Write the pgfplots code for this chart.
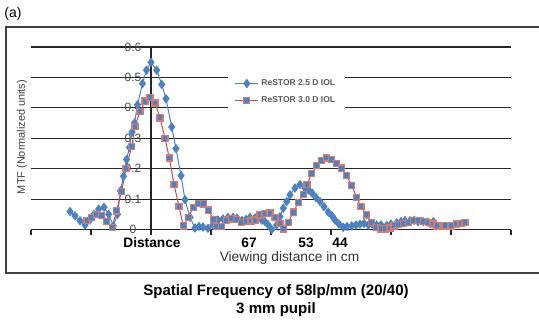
\documentclass[border=0pt]{standalone}
\usepackage{pgfplots}
\pgfplotsset{compat=1.18}
\usepackage{fontspec}
\setmainfont{Liberation Sans}
\definecolor{xblue}{HTML}{4F81BD}
\definecolor{xred}{HTML}{C0504D}
\begin{document}
\begin{tikzpicture}
\begin{scope}[x=0.75pt,y=-0.75pt]
\path[use as bounding box] (0,0) rectangle (539,321);
\draw[black!75, line width=0.9pt] (6,27) rectangle (560,273);
\node[font=\fontsize{10.5}{12}\selectfont] at (13,14) {(a)};
\node[rotate=90, font=\fontsize{8.2}{10}\selectfont, text=black!75] at (22,137) {MTF (Normalized units)};
\node[font=\bfseries\fontsize{10.3}{12}\selectfont, inner sep=1pt] at (152,243) {Distance};
\node[font=\bfseries\fontsize{10.3}{12}\selectfont, inner sep=1pt] at (249,243) {67};
\node[font=\bfseries\fontsize{10.3}{12}\selectfont, inner sep=1pt] at (306,243) {53};
\node[font=\bfseries\fontsize{10.3}{12}\selectfont, inner sep=1pt] at (340,243) {44};
\node[font=\fontsize{10.3}{12}\selectfont, text=black!80, inner sep=1pt] at (289.5,257.5) {Viewing distance in cm};
\node[font=\bfseries\fontsize{11.3}{13.5}\selectfont, align=center] at (276,301) {Spatial Frequency of 58lp/mm (20/40)\\3 mm pupil};
\end{scope}
\begin{axis}[
  at={(23.25pt,-172.125pt)}, anchor=south west,
  scale only axis, width=360pt, height=136.875pt,
  xmin=31, xmax=511, ymin=0, ymax=0.6,
  axis line style={draw=none},
  xtick={31,91,151,211,271,331,391,451,511},
  xticklabels={},
  tick align=outside, xtick pos=bottom, ytick pos=left,
  major tick length=3.75pt,
  x tick style={black!85, line width=0.8pt},
  ytick={0,0.1,0.2,0.3,0.4,0.5,0.6},
  yticklabels={0,0.1,0.2,0.3,0.4,0.5,0.6},
  y tick style={draw=none},
  yticklabel style={anchor=center, xshift=80.25pt, font=\fontsize{9}{10}\selectfont, text=black!72},
  ymajorgrids, major grid style={black!85, line width=0.8pt},
  clip=false,
  legend style={at={(axis cs:228,0.52)}, anchor=north west, draw=none, fill=white,
    font=\bfseries\fontsize{6.4}{7.5}\selectfont, text=black!65, inner xsep=5pt, inner ysep=4pt, row sep=2.5pt},
  legend cell align=left,
]
\draw[black!85, line width=0.8pt] (axis cs:151,0) -- (axis cs:151,0.6);
\addplot[color=xblue, line width=0.75pt, mark=diamond*, mark size=3pt, mark options={fill=xblue, draw=xblue}] coordinates {
(70,0.059) (75,0.045) (80,0.029) (85,0.015) (90,0.031) (94,0.050) (98.7,0.067) (104,0.073) (108.7,0.050) (113.3,0.012)
(117.5,0.050) (120.5,0.127) (123.5,0.175) (126.5,0.230) (129.5,0.270) (132,0.320) (134.5,0.350) (137.5,0.410) (142.5,0.480) (146.5,0.524)
(151,0.550) (156.7,0.524) (161.7,0.477) (166,0.430) (171.7,0.337) (176,0.266) (181,0.177) (185,0.098) (190,0.040) (195,0.005)
(199,0.010) (203,0.008) (208,0.004) (213,0.015) (218,0.031) (223,0.035) (228,0.040) (233,0.040) (237,0.037) (242,0.030)
(246,0.033) (250,0.040) (255,0.038) (261.7,0.031) (265,0.026) (268.3,0.015) (271.7,0.000) (276.7,0.015) (280,0.042) (283.3,0.070)
(286.7,0.092) (290,0.114) (295,0.136) (300,0.148) (305,0.136) (308.3,0.130) (312,0.120) (316,0.105) (320,0.092) (324,0.075)
(328.3,0.057) (332,0.045) (335,0.031) (339,0.018) (343.3,0.007) (347,0.010) (351.7,0.012) (356,0.015) (360,0.018) (364,0.020)
(368.3,0.015) (372,0.018) (376.7,0.015) (381,0.015) (386.7,0.013) (391,0.018) (396.7,0.022) (401,0.026) (405,0.029) (410,0.029)
(414,0.030) (418,0.026) (423,0.026) (428,0.024) (433.3,0.026)
};
\addlegendentry{ReSTOR 2.5 D IOL}
\addplot[color=xred, line width=0.75pt, mark=square*, mark size=2.3pt, mark options={fill=xblue, draw=xred!75!white, line width=0.9pt}] coordinates {
(87,0.030) (91.7,0.040) (96.7,0.050) (101.7,0.045) (106.7,0.026) (112.3,0.007) (116.5,0.061) (121.7,0.126) (126,0.200) (131.7,0.273)
(135,0.339) (140,0.389) (145,0.422) (150,0.435) (155,0.416) (160,0.367) (165,0.300) (169.3,0.235) (174,0.149) (179,0.075)
(183.3,0.012) (188.3,0.040) (193.3,0.072) (198.3,0.086) (203.3,0.084) (208.3,0.064) (213.3,0.033) (216.7,0.009) (221.7,0.009) (226.7,0.031)
(231.7,0.035) (236.7,0.033) (241.7,0.022) (246.7,0.026) (251,0.028) (255,0.031) (260,0.048) (265,0.053) (270,0.054) (275,0.040)
(280,0.020) (283.3,0.002) (288.3,0.024) (293.3,0.057) (298.3,0.088) (303.3,0.116) (307,0.147) (311.7,0.185) (316.7,0.210) (321.7,0.227)
(326.7,0.235) (331.7,0.230) (336.7,0.218) (341.7,0.202) (346.7,0.177) (351.7,0.145) (356.7,0.105) (361,0.075) (366.7,0.048) (371.7,0.024)
(376.7,0.006) (381,0.002) (385.5,0.002) (390,0.005) (394,0.012) (398.3,0.017) (403.3,0.020) (408.3,0.023) (413.3,0.030) (418.3,0.030)
(423.3,0.027) (428.3,0.022) (433,0.018) (437,0.012) (445,0.012) (451.7,0.012) (456.7,0.018) (461,0.020) (465,0.022)
};
\addlegendentry{ReSTOR 3.0 D IOL}
\end{axis}
\end{tikzpicture}
\end{document}
